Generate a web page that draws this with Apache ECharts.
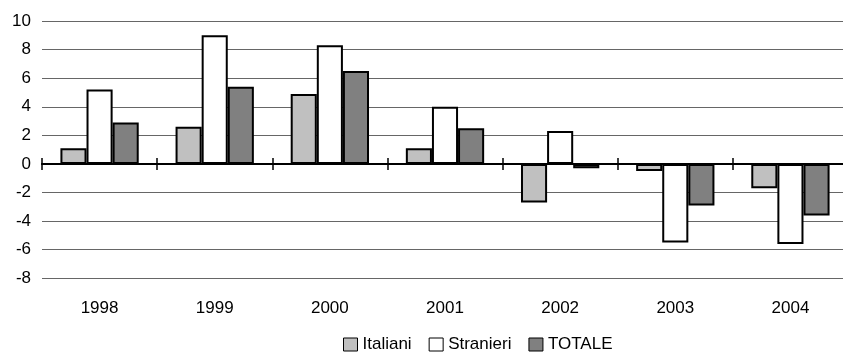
<!DOCTYPE html>
<html>
<head>
<meta charset="utf-8">
<script src="https://cdn.jsdelivr.net/npm/echarts@6/dist/echarts.min.js"></script>
<style>
  html, body { margin: 0; padding: 0; background: #fff; }
  #chart { width: 843px; height: 354px; }
</style>
</head>
<body>
<div id="chart"></div>
<script>
// Variazioni percentuali annue per anno e componente
const years = ['1998', '1999', '2000', '2001', '2002', '2003', '2004'];
const italiani  = [1.1, 2.6, 4.9, 1.1, -2.7, -0.5, -1.7];
const stranieri = [5.2, 9.0, 8.3, 4.0, 2.3, -5.5, -5.6];
const totale    = [2.9, 5.4, 6.5, 2.5, -0.3, -2.9, -3.6];
const yTicks = { min: -8, max: 10, step: 2 };

const FONT = "'Liberation Sans Narrow', 'Arial Narrow', 'Liberation Sans', Arial, sans-serif";
const FS = 17;

// plot box
const GRID = { left: 42, right: -5, top: 21, bottom: 75.7 };
const CHART_H = 354;
// distance from the top edge of the plot down to the zero line
const zeroDrop = (CHART_H - GRID.top - GRID.bottom) * yTicks.max / (yTicks.max - yTicks.min);

const chart = echarts.init(document.getElementById('chart'), null, { renderer: 'canvas' });

function barSeries(name, data, color) {
  return {
    name: name,
    type: 'bar',
    data: data,
    xAxisIndex: 0,
    barGap: '0%',
    barCategoryGap: '32%',
    itemStyle: { color: color, borderColor: '#000', borderWidth: 2 },
    emphasis: { disabled: true }
  };
}

chart.setOption({
  animation: false,
  backgroundColor: '#fff',
  textStyle: { fontFamily: FONT, color: '#000' },
  grid: Object.assign({ containLabel: false, outerBoundsMode: 'none' }, GRID),
  legend: {
    left: 343,
    top: 336,
    padding: 0,
    itemWidth: 14,
    itemHeight: 13,
    itemGap: 17,
    icon: 'rect',
    textStyle: { fontFamily: FONT, fontSize: FS, color: '#000' },
    itemStyle: { borderColor: '#000', borderWidth: 1 },
    data: ['Italiani', 'Stranieri', 'TOTALE']
  },
  xAxis: [
    {
      // zero line, lower half of the ticks and the year labels
      type: 'category',
      data: years,
      position: 'bottom',
      axisLine: { onZero: true, lineStyle: { color: '#000', width: 2 } },
      axisTick: { show: true, length: 6, lineStyle: { color: '#000', width: 1.5 } },
      axisLabel: { margin: 22, fontFamily: FONT, fontSize: FS, color: '#000' },
      splitLine: { show: false }
    },
    {
      // upper half of the ticks, moved down onto the zero line
      type: 'category',
      data: years,
      position: 'top',
      offset: -zeroDrop,
      axisLine: { onZero: false, lineStyle: { color: '#000', width: 2 } },
      axisTick: { show: true, length: 6, lineStyle: { color: '#000', width: 1.5 } },
      axisLabel: { show: false },
      splitLine: { show: false }
    }
  ],
  yAxis: {
    type: 'value',
    min: yTicks.min,
    max: yTicks.max,
    interval: yTicks.step,
    axisLine: { show: false },
    axisTick: { show: false },
    axisLabel: { margin: 11, fontFamily: FONT, fontSize: FS, color: '#000' },
    splitLine: { lineStyle: { color: '#666', width: 1 } }
  },
  series: [
    barSeries('Italiani', italiani, '#c0c0c0'),
    barSeries('Stranieri', stranieri, '#ffffff'),
    barSeries('TOTALE', totale, '#808080')
  ]
});
</script>
</body>
</html>
